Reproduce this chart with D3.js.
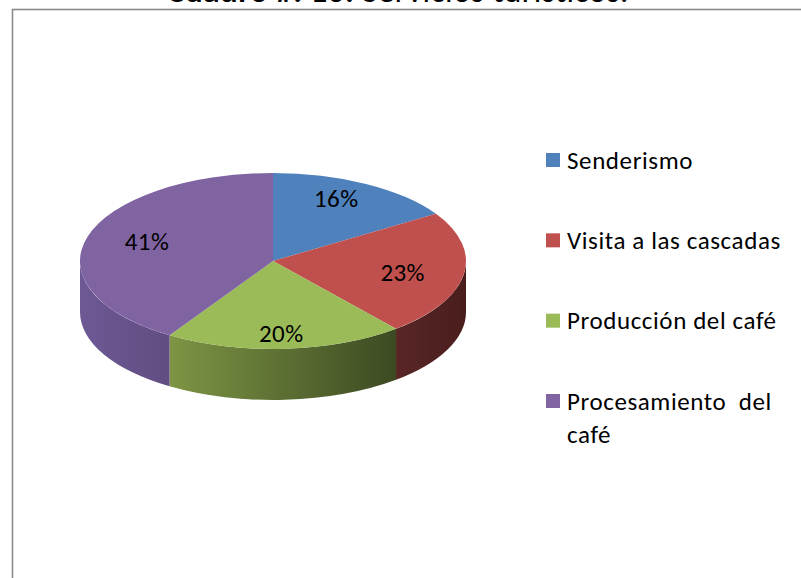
<!DOCTYPE html>
<html>
<head>
<meta charset="utf-8">
<script src="https://cdn.jsdelivr.net/npm/d3@7"></script>
<style>
  html, body { margin: 0; padding: 0; background: #fff; overflow: hidden; }
  text { font-family: Carlito, Calibri, Lato, sans-serif; fill: #000; }
</style>
</head>
<body>
<div id="chart"></div>
<script>
// Chart data
var categories = ["Senderismo", "Visita a las cascadas", "Producción del café", "Procesamiento  del café"];
var legendLines = [["Senderismo"], ["Visita a las cascadas"], ["Producción del café"], ["Procesamiento  del", "café"]];
var values = [16, 23, 20, 41];
var topColors = ["#4f81bd", "#c0504d", "#9bbb59", "#8064a2"];
var sideLight = ["#3b5f8c", "#592626", "#7d9544", "#6d5994"];
var sideDark = ["#2c4870", "#4a1d1d", "#3c4a22", "#614d82"];

function init() {
    var w = 801, h = 578;
    var cx = 273, cy = 261, rx = 193, ry = 88, depth = 51;
    var k = ry / rx;          // vertical squash of the pie
    var D = depth / k;        // depth in the un-squashed space

    var svg = d3.select("#chart").append("svg")
        .attr("width", w)
        .attr("height", h);

    // Frame (only top and left edges are in view)
    svg.append("rect")
       .attr("x", 12.5).attr("y", 9.5)
       .attr("width", 900).attr("height", 700)
       .attr("fill", "none")
       .attr("stroke", "#8a8a8a")
       .attr("stroke-width", 1.6);

    // Title, mostly cut off at the top
    var title = svg.append("text")
       .attr("x", 398).attr("y", 1.5)
       .attr("text-anchor", "middle")
       .style("font-size", "33px")
       .style("letter-spacing", "0.5px");
    title.append("tspan").style("font-weight", "bold").text("Cuadro #. 10.");
    title.append("tspan").text(" Servicios turísticos.");

    var pie = d3.pie().sort(null).value(function(d) { return d; });
    var arcs = pie(values);

    // side shading, light on the left of each wall, dark on the right
    var defs = svg.append("defs");
    arcs.forEach(function(a, i) {
        var g = defs.append("linearGradient")
            .attr("id", "side" + i)
            .attr("x1", 0).attr("x2", 1)
            .attr("y1", 0).attr("y2", 0);
        g.append("stop").attr("offset", "0%").attr("stop-color", sideLight[i]);
        g.append("stop").attr("offset", "100%").attr("stop-color", sideDark[i]);
    });

    // pie group: squashed vertically to make the ellipse
    var pg = svg.append("g")
        .attr("transform", "translate(" + cx + "," + cy + ") scale(1," + k + ")");

    // outer side walls, only for the front half (angles PI/2 .. 3PI/2)
    var sideG = pg.append("g");
    arcs.forEach(function(a, i) {
        var a0 = Math.max(a.startAngle, Math.PI / 2);
        var a1 = Math.min(a.endAngle, 3 * Math.PI / 2);
        if (a1 <= a0) return;
        var p = d3.path();
        var s0 = a0 - Math.PI / 2, s1 = a1 - Math.PI / 2;
        p.moveTo(rx * Math.cos(s0), rx * Math.sin(s0));
        p.arc(0, 0, rx, s0, s1, false);
        p.lineTo(rx * Math.cos(s1), rx * Math.sin(s1) + D);
        p.arc(0, D, rx, s1, s0, true);
        p.closePath();
        sideG.append("path")
            .attr("d", p.toString())
            .attr("fill", "url(#side" + i + ")");
    });

    // top faces
    var arc = d3.arc().innerRadius(0).outerRadius(rx);
    pg.selectAll("path.top")
      .data(arcs)
      .enter().append("path")
      .attr("class", "top")
      .attr("d", arc)
      .attr("fill", function(d, i) { return topColors[i]; });

    // percentage labels
    var lx = d3.arc().innerRadius(rx * 0.68).outerRadius(rx * 0.68);
    var ly = d3.arc().innerRadius(rx * 0.82).outerRadius(rx * 0.82);
    var total = d3.sum(values);
    svg.selectAll("text.pct")
       .data(arcs)
       .enter().append("text")
       .attr("class", "pct")
       .attr("x", function(d) { return cx + lx.centroid(d)[0]; })
       .attr("y", function(d) { return cy + ly.centroid(d)[1] * k; })
       .attr("dy", "0.35em")
       .attr("text-anchor", "middle")
       .style("font-size", "25px")
       .style("letter-spacing", "0.4px")
       .text(function(d) { return Math.round(d.value / total * 100) + "%"; });

    // legend
    var legendY = d3.scalePoint().domain(categories).range([160, 401]);
    var lg = svg.selectAll("g.legend")
       .data(categories)
       .enter().append("g")
       .attr("class", "legend")
       .attr("transform", function(d) { return "translate(546," + legendY(d) + ")"; });
    lg.append("rect")
      .attr("x", 0).attr("y", -7)
      .attr("width", 14).attr("height", 14)
      .attr("fill", function(d, i) { return topColors[i]; });
    lg.append("text")
      .attr("x", 21)
      .attr("y", 0)
      .style("font-size", "25px")
      .style("letter-spacing", "0.6px")
      .each(function(d, i) {
          var t = d3.select(this);
          legendLines[i].forEach(function(line, j) {
              t.append("tspan")
               .attr("x", 21)
               .attr("dy", j === 0 ? "0.35em" : "1.32em")
               .style("white-space", "pre")
               .text(line);
          });
      });
}

window.onload = init;
</script>
</body>
</html>
